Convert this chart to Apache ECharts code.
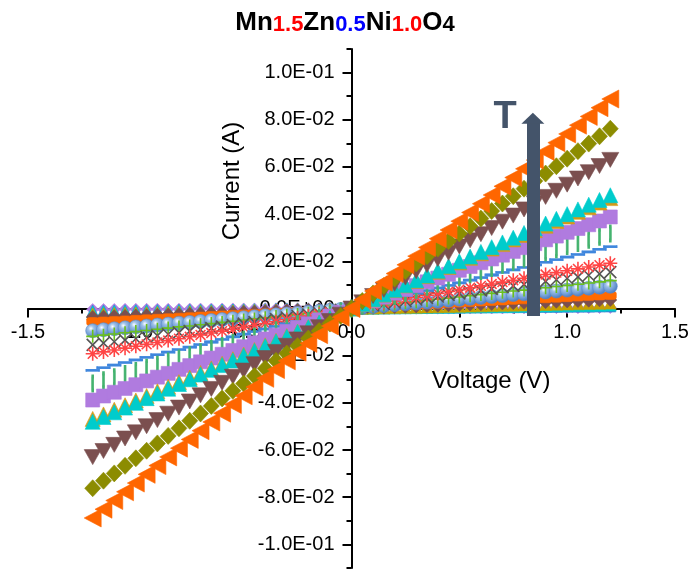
<!DOCTYPE html>
<html><head><meta charset="utf-8">
<script src="https://cdn.jsdelivr.net/npm/echarts@6/dist/echarts.min.js"></script>
<style>html,body{margin:0;padding:0;background:#fff}#c{width:690px;height:571px}</style>
</head><body><div id="c"></div>
<script>
// Voltage (V)
const voltage = [-1.2,-1.15,-1.1,-1.05,-1,-0.95,-0.9,-0.85,-0.8,-0.75,-0.7,-0.65,-0.6,-0.55,-0.5,-0.45,-0.4,-0.35,-0.3,-0.25,-0.2,-0.15,-0.1,-0.05,0,0.05,0.1,0.15,0.2,0.25,0.3,0.35,0.4,0.45,0.5,0.55,0.6,0.65,0.7,0.75,0.8,0.85,0.9,0.95,1,1.05,1.1,1.15,1.2];
// Currents in mA, lowest temperature first
const cur01 = [-0.42,-0.4,-0.39,-0.37,-0.35,-0.33,-0.32,-0.3,-0.28,-0.26,-0.25,-0.23,-0.21,-0.19,-0.18,-0.16,-0.14,-0.12,-0.11,-0.09,-0.07,-0.05,-0.04,-0.02,0,0.02,0.04,0.05,0.07,0.09,0.11,0.12,0.14,0.16,0.18,0.19,0.21,0.23,0.25,0.26,0.28,0.3,0.32,0.33,0.35,0.37,0.39,0.4,0.42];
const cur02 = [-0.84,-0.81,-0.77,-0.74,-0.7,-0.67,-0.63,-0.6,-0.56,-0.53,-0.49,-0.46,-0.42,-0.39,-0.35,-0.32,-0.28,-0.25,-0.21,-0.18,-0.14,-0.11,-0.07,-0.04,0,0.04,0.07,0.11,0.14,0.18,0.21,0.25,0.28,0.32,0.35,0.39,0.42,0.46,0.49,0.53,0.56,0.6,0.63,0.67,0.7,0.74,0.77,0.81,0.84];
const cur03 = [-1.44,-1.38,-1.32,-1.26,-1.2,-1.14,-1.08,-1.02,-0.96,-0.9,-0.84,-0.78,-0.72,-0.66,-0.6,-0.54,-0.48,-0.42,-0.36,-0.3,-0.24,-0.18,-0.12,-0.06,0,0.06,0.12,0.18,0.24,0.3,0.36,0.42,0.48,0.54,0.6,0.66,0.72,0.78,0.84,0.9,0.96,1.02,1.08,1.14,1.2,1.26,1.32,1.38,1.44];
const cur04 = [-2.28,-2.19,-2.09,-2,-1.9,-1.81,-1.71,-1.62,-1.52,-1.43,-1.33,-1.24,-1.14,-1.05,-0.95,-0.86,-0.76,-0.67,-0.57,-0.48,-0.38,-0.29,-0.19,-0.1,0,0.1,0.19,0.29,0.38,0.48,0.57,0.67,0.76,0.86,0.95,1.05,1.14,1.24,1.33,1.43,1.52,1.62,1.71,1.81,1.9,2,2.09,2.19,2.28];
const cur05 = [-3.6,-3.45,-3.3,-3.15,-3,-2.85,-2.7,-2.55,-2.4,-2.25,-2.1,-1.95,-1.8,-1.65,-1.5,-1.35,-1.2,-1.05,-0.9,-0.75,-0.6,-0.45,-0.3,-0.15,0,0.15,0.3,0.45,0.6,0.75,0.9,1.05,1.2,1.35,1.5,1.65,1.8,1.95,2.1,2.25,2.4,2.55,2.7,2.85,3,3.15,3.3,3.45,3.6];
const cur06 = [-5.52,-5.29,-5.06,-4.83,-4.6,-4.37,-4.14,-3.91,-3.68,-3.45,-3.22,-2.99,-2.76,-2.53,-2.3,-2.07,-1.84,-1.61,-1.38,-1.15,-0.92,-0.69,-0.46,-0.23,0,0.23,0.46,0.69,0.92,1.15,1.38,1.61,1.84,2.07,2.3,2.53,2.76,2.99,3.22,3.45,3.68,3.91,4.14,4.37,4.6,4.83,5.06,5.29,5.52];
const cur07 = [-9.4,-9.0,-8.6,-8.2,-7.8,-7.4,-7.0,-6.6,-6.2,-5.9,-5.5,-5.1,-4.7,-4.3,-3.9,-3.5,-3.1,-2.7,-2.3,-2.0,-1.6,-1.2,-0.8,-0.4,0,0.4,0.8,1.2,1.6,2.0,2.3,2.7,3.1,3.5,3.9,4.3,4.7,5.1,5.5,5.9,6.2,6.6,7.0,7.4,7.8,8.2,8.6,9.0,9.4];
const cur08 = [-11.8,-11.3,-10.8,-10.3,-9.8,-9.3,-8.8,-8.3,-7.8,-7.4,-6.9,-6.4,-5.9,-5.4,-4.9,-4.4,-3.9,-3.4,-2.9,-2.5,-2.0,-1.5,-1.0,-0.5,0,0.5,1.0,1.5,2.0,2.5,2.9,3.4,3.9,4.4,4.9,5.4,5.9,6.4,6.9,7.4,7.8,8.3,8.8,9.3,9.8,10.3,10.8,11.3,11.8];
const cur09 = [-15.4,-14.7,-14.1,-13.4,-12.8,-12.2,-11.5,-10.9,-10.2,-9.6,-9.0,-8.3,-7.7,-7.0,-6.4,-5.8,-5.1,-4.5,-3.8,-3.2,-2.6,-1.9,-1.3,-0.6,0,0.6,1.3,1.9,2.6,3.2,3.8,4.5,5.1,5.8,6.4,7.0,7.7,8.3,9.0,9.6,10.2,10.9,11.5,12.2,12.8,13.4,14.1,14.7,15.4];
const cur10 = [-19.2,-18.4,-17.6,-16.8,-16,-15.2,-14.4,-13.6,-12.8,-12,-11.2,-10.4,-9.6,-8.8,-8,-7.2,-6.4,-5.6,-4.8,-4,-3.2,-2.4,-1.6,-0.8,0,0.8,1.6,2.4,3.2,4,4.8,5.6,6.4,7.2,8,8.8,9.6,10.4,11.2,12,12.8,13.6,14.4,15.2,16,16.8,17.6,18.4,19.2];
const cur11 = [-26.2,-25.1,-24.0,-22.9,-21.8,-20.7,-19.6,-18.5,-17.4,-16.4,-15.3,-14.2,-13.1,-12.0,-10.9,-9.8,-8.7,-7.6,-6.5,-5.5,-4.4,-3.3,-2.2,-1.1,0,1.1,2.2,3.3,4.4,5.5,6.5,7.6,8.7,9.8,10.9,12.0,13.1,14.2,15.3,16.4,17.4,18.5,19.6,20.7,21.8,22.9,24.0,25.1,26.2];
const cur12 = [-31.8,-30.5,-29.2,-27.8,-26.5,-25.2,-23.9,-22.5,-21.2,-19.9,-18.6,-17.2,-15.9,-14.6,-13.3,-11.9,-10.6,-9.3,-8.0,-6.6,-5.3,-4.0,-2.7,-1.3,0,1.3,2.7,4.0,5.3,6.6,8.0,9.3,10.6,11.9,13.3,14.6,15.9,17.2,18.6,19.9,21.2,22.5,23.9,25.2,26.5,27.8,29.2,30.5,31.8];
const cur13 = [-38.8,-37.1,-35.5,-33.9,-32.3,-30.7,-29.1,-27.5,-25.8,-24.2,-22.6,-21.0,-19.4,-17.8,-16.2,-14.5,-12.9,-11.3,-9.7,-8.1,-6.5,-4.8,-3.2,-1.6,0,1.6,3.2,4.8,6.5,8.1,9.7,11.3,12.9,14.5,16.2,17.8,19.4,21.0,22.6,24.2,25.8,27.5,29.1,30.7,32.3,33.9,35.5,37.1,38.8];
const cur14 = [-46.8,-44.9,-42.9,-41,-39,-37.1,-35.1,-33.2,-31.2,-29.3,-27.3,-25.4,-23.4,-21.5,-19.5,-17.6,-15.6,-13.7,-11.7,-9.8,-7.8,-5.9,-3.9,-2.0,0,2.0,3.9,5.9,7.8,9.8,11.7,13.7,15.6,17.6,19.5,21.5,23.4,25.4,27.3,29.3,31.2,33.2,35.1,37.1,39,41,42.9,44.9,46.8];
const cur15 = [-48,-46,-44,-42,-40,-38,-36,-34,-32,-30,-28,-26,-24,-22,-20,-18,-16,-14,-12,-10,-8,-6,-4,-2,0,2,4,6,8,10,12,14,16,18,20,22,24,26,28,30,32,34,36,38,40,42,44,46,48];
const cur16 = [-63,-60.4,-57.8,-55.1,-52.5,-49.9,-47.3,-44.6,-42,-39.4,-36.8,-34.1,-31.5,-28.9,-26.3,-23.6,-21,-18.4,-15.8,-13.1,-10.5,-7.9,-5.3,-2.6,0,2.6,5.3,7.9,10.5,13.1,15.8,18.4,21,23.6,26.3,28.9,31.5,34.1,36.8,39.4,42,44.6,47.3,49.9,52.5,55.1,57.8,60.4,63];
const cur17 = [-76.2,-73.0,-69.9,-66.7,-63.5,-60.3,-57.2,-54.0,-50.8,-47.6,-44.5,-41.3,-38.1,-34.9,-31.8,-28.6,-25.4,-22.2,-19.1,-15.9,-12.7,-9.5,-6.4,-3.2,0,3.2,6.4,9.5,12.7,15.9,19.1,22.2,25.4,28.6,31.8,34.9,38.1,41.3,44.5,47.6,50.8,54.0,57.2,60.3,63.5,66.7,69.9,73.0,76.2];
const cur18 = [-88.8,-85.1,-81.4,-77.7,-74,-70.3,-66.6,-62.9,-59.2,-55.5,-51.8,-48.1,-44.4,-40.7,-37,-33.3,-29.6,-25.9,-22.2,-18.5,-14.8,-11.1,-7.4,-3.7,0,3.7,7.4,11.1,14.8,18.5,22.2,25.9,29.6,33.3,37,40.7,44.4,48.1,51.8,55.5,59.2,62.9,66.6,70.3,74,77.7,81.4,85.1,88.8];

// tick labels
const xTicks = [-1.5,-1,-0.5,0,0.5,1,1.5];
const yTicks = [-0.1,-0.08,-0.06,-0.04,-0.02,0,0.02,0.04,0.06,0.08,0.1];
const yMinorTicks = [-0.11,-0.09,-0.07,-0.05,-0.03,-0.01,0.01,0.03,0.05,0.07,0.09,0.11];
// arrow annotation (V, A)
const arrowV = [0.841];
const arrowI = [-0.0032, 0.0788, 0.0806];
const tLabel = [0.712, 0.0811];

const W = 690, H = 571;
const G = {left:28, right:15, top:49, bottom:3};
const FONT = 'Liberation Sans, Arial, sans-serif';
const LT = 'path://M0,5L10,0L10,10Z';
const DT = 'path://M0,0L10,0L5,10Z';
const STAR = 'path://M5,0L5,10M0,5L10,5M1.5,1.5L8.5,8.5M8.5,1.5L1.5,8.5';
const CROSS = 'path://M0,0L10,10M10,0L0,10';
const PLUS = 'path://M5,0L5,10M0,5L10,5';
const sphere = {type:'radial',x:0.38,y:0.35,r:0.65,colorStops:[{offset:0,color:'#ffffff'},{offset:0.3,color:'#9DC0E8'},{offset:1,color:'#4A7EC2'}]};

const styles = [
  {d:cur01, symbol:'diamond', size:12, color:'#B07FE0'},
  {d:cur02, symbol:'triangle', size:11, color:'#3A7FD5'},
  {d:cur03, symbol:'triangle', size:12, color:'#00CCCC'},
  {d:cur04, symbol:'triangle', size:12, color:'#C8A000'},
  {d:cur05, symbol:'diamond', size:13, color:'#7B4F4F'},
  {d:cur06, symbol:'roundRect', size:[12,8], color:'#FF6A00'},
  {d:cur07, symbol:'circle', size:14, color:sphere, border:'#5A8ACB'},
  {d:cur08, symbol:PLUS, size:13, color:'#6ABF1F', stroke:true},
  {d:cur09, symbol:CROSS, size:12, color:'#555555', stroke:true},
  {d:cur10, symbol:STAR, size:14, color:'#FF4545', stroke:true},
  {d:cur11, symbol:'rect', size:[13,2.5], color:'#3F86DD'},
  {d:cur12, symbol:'rect', size:[2,14], color:'#45B36F'},
  {d:cur13, symbol:'rect', size:14, color:'#B07BDF'},
  {d:cur14, symbol:'triangle', size:15, color:'#D49A1A'},
  {d:cur15, symbol:'triangle', size:15, color:'#00CCCC'},
  {d:cur16, symbol:DT, size:[17,15], color:'#7B4F4F'},
  {d:cur17, symbol:'diamond', size:[16,17], color:'#8C8C00'},
  {d:cur18, symbol:LT, size:[17,18], color:'#FF6600'}
];

const series = styles.map((s, i) => ({
  type:'scatter', name:'S'+(i+1), z: 2,
  symbol:s.symbol, symbolSize:s.size,
  data: voltage.map((v, k) => [v, s.d[k] / 1000]),
  itemStyle: s.stroke ? {color:'rgba(0,0,0,0)', borderColor:s.color, borderWidth:1.6, opacity:1}
                      : {color:s.color, borderColor:s.border || s.color, borderWidth:0.6, opacity:1},
  emphasis:{disabled:true}
}));

series.push({
  type:'line', data:[], z:10, silent:true,
  markLine:{silent:true, symbol:['none','none'], animation:false, label:{show:false},
    lineStyle:{color:'#44546A', width:13, type:'solid', opacity:1},
    data:[[{coord:[arrowV[0], arrowI[0]]},{coord:[arrowV[0], arrowI[1]]}]]},
  markPoint:{silent:true, animation:false,
    data:[
      {coord:[arrowV[0], arrowI[2]], symbol:'triangle', symbolSize:[23,11], itemStyle:{color:'#44546A', opacity:1}, label:{show:false}},
      {coord:tLabel, symbol:'rect', symbolSize:1, itemStyle:{color:'rgba(0,0,0,0)'},
       label:{show:true, position:'inside', formatter:'T', fontSize:38, fontWeight:'bold', color:'#44546A', fontFamily:FONT}}
    ]}
});

function sci(v){
  if (Math.abs(v) < 1e-12) return '0.0E+00';
  const p = v.toExponential(1).split('e');
  const e = p[1];
  return p[0] + 'E' + e[0] + e.slice(1).padStart(2,'0');
}

// axes cross at the centre of the (symmetric) grid
const yOffset = -(W - G.left - G.right) / 2;
const xOffset = -(H - G.top - G.bottom) / 2;
const lineSt = {color:'#000', width:2};
const option = {
  animation:false,
  backgroundColor:'#fff',
  title:{
    left:'center', top:3,
    text:'{a|Mn}{r|1.5}{a|Zn}{b|0.5}{a|Ni}{r|1.0}{a|O}{k|4}',
    textStyle:{rich:{
      a:{fontSize:26, fontWeight:'bold', color:'#000', fontFamily:FONT, verticalAlign:'bottom', lineHeight:28},
      r:{fontSize:22, fontWeight:'bold', color:'#FF0000', fontFamily:FONT, verticalAlign:'bottom', lineHeight:28},
      b:{fontSize:22, fontWeight:'bold', color:'#0000FF', fontFamily:FONT, verticalAlign:'bottom', lineHeight:28},
      k:{fontSize:22, fontWeight:'bold', color:'#000', fontFamily:FONT, verticalAlign:'bottom', lineHeight:28}
    }}
  },
  grid:{left:G.left, right:G.right, top:G.top, bottom:G.bottom, containLabel:false, outerBoundsMode:'none'},
  xAxis:{
    type:'value', min:-1.5, max:1.5, interval:0.5, position:'bottom', offset:xOffset,
    axisLine:{show:true, onZero:false, lineStyle:lineSt},
    axisTick:{show:true, length:9, lineStyle:lineSt},
    minorTick:{show:true, splitNumber:2, length:5, lineStyle:lineSt},
    axisLabel:{fontSize:20, color:'#000', fontFamily:FONT, margin:14, customValues:xTicks, formatter:v => v.toFixed(1)},
    splitLine:{show:false}, minorSplitLine:{show:false}
  },
  yAxis:[{
    type:'value', min:-0.11, max:0.11, interval:0.01, position:'left', offset:yOffset,
    axisLine:{show:true, onZero:false, lineStyle:lineSt},
    axisTick:{show:true, length:9, customValues:yTicks, lineStyle:lineSt},
    axisLabel:{fontSize:20, color:'#000', fontFamily:FONT, margin:17, customValues:yTicks, formatter:sci},
    splitLine:{show:false}
  },{
    type:'value', min:-0.11, max:0.11, interval:0.01, position:'left', offset:yOffset,
    axisLine:{show:false, onZero:false},
    axisTick:{show:true, length:5, customValues:yMinorTicks, lineStyle:lineSt},
    axisLabel:{show:false},
    splitLine:{show:false}
  }],
  graphic:[
    {type:'text', x:491, y:381, style:{text:'Voltage (V)', fill:'#000', font:'24px ' + FONT, textAlign:'center', textVerticalAlign:'middle', align:'center', verticalAlign:'middle'}},
    {type:'text', x:232, y:181, rotation:Math.PI/2, style:{text:'Current (A)', fill:'#000', font:'24px ' + FONT, textAlign:'center', textVerticalAlign:'middle', align:'center', verticalAlign:'middle'}}
  ],
  series:series
};
const chart = echarts.init(document.getElementById('c'), null, {renderer:'canvas'});
chart.setOption(option);
</script></body></html>
